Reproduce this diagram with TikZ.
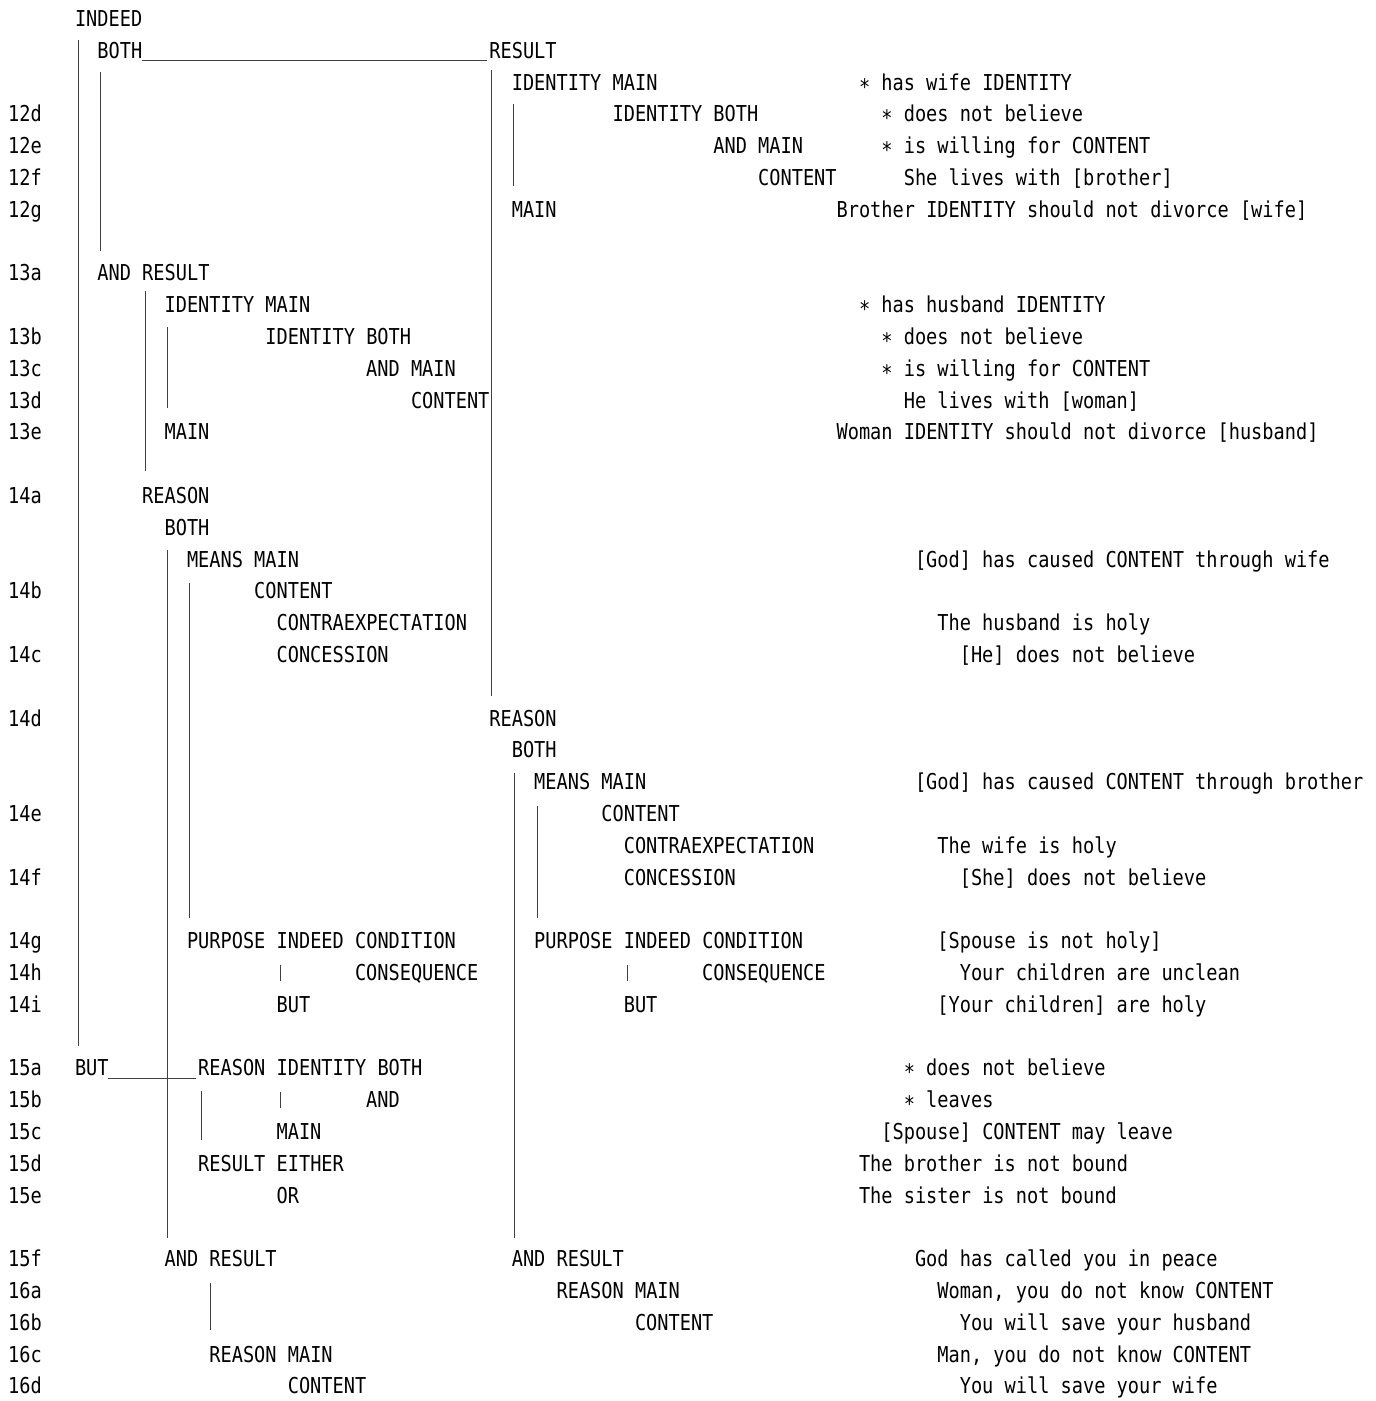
\documentclass[tikz,border=0pt]{standalone}
\usepackage{fontspec}
\newfontfamily\dm[FakeStretch=0.85]{DejaVu Sans Mono}
\newcommand{\astk}{∗}
\tikzset{
  txt/.style={anchor=base west, inner sep=0pt, font=\dm\fontsize{21.9}{24}\selectfont, text=black},
  tree/.style={draw=black!75, line width=1pt},
  declare function={rb(\k)=26.5+31.8*\k; cx(\c)=74.8+11.2*\c;}
}
\begin{document}
\begin{tikzpicture}[x=1pt,y=-1pt]
\useasboundingbox[fill=white] (0,0) rectangle (1376,1401);
% verse labels
\foreach \lab/\r in {12d/3,12e/4,12f/5,12g/6,13a/8,13b/10,13c/11,13d/12,13e/13,14a/15,14b/18,14c/20,14d/22,14e/25,14f/27,14g/29,14h/30,14i/31,15a/33,15b/34,15c/35,15d/36,15e/37,15f/39,16a/40,16b/41,16c/42,16d/43}
  \node[txt] (v\lab) at (8,{rb(\r)}) {\lab};
% tree texts
\node[txt] (t0) at ({cx(0)},{rb(0)}) {INDEED};
\node[txt] (t1a) at ({cx(2)},{rb(1)}) {BOTH};
\node[txt] (t1b) at ({cx(37)},{rb(1)}) {RESULT};
\node[txt] (t2) at ({cx(39)},{rb(2)}) {IDENTITY MAIN};
\node[txt] (t3) at ({cx(48)},{rb(3)}) {IDENTITY BOTH};
\node[txt] (t4) at ({cx(57)},{rb(4)}) {AND MAIN};
\node[txt] (t5) at ({cx(61)},{rb(5)}) {CONTENT};
\node[txt] (t6) at ({cx(39)},{rb(6)}) {MAIN};
\node[txt] (t8) at ({cx(2)},{rb(8)}) {AND RESULT};
\node[txt] (t9) at ({cx(8)},{rb(9)}) {IDENTITY MAIN};
\node[txt] (t10) at ({cx(17)},{rb(10)}) {IDENTITY BOTH};
\node[txt] (t11) at ({cx(26)},{rb(11)}) {AND MAIN};
\node[txt] (t12) at ({cx(30)},{rb(12)}) {CONTENT};
\node[txt] (t13) at ({cx(8)},{rb(13)}) {MAIN};
\node[txt] (t15) at ({cx(6)},{rb(15)}) {REASON};
\node[txt] (t16) at ({cx(8)},{rb(16)}) {BOTH};
\node[txt] (t17) at ({cx(10)},{rb(17)}) {MEANS MAIN};
\node[txt] (t18) at ({cx(16)},{rb(18)}) {CONTENT};
\node[txt] (t19) at ({cx(18)},{rb(19)}) {CONTRAEXPECTATION};
\node[txt] (t20) at ({cx(18)},{rb(20)}) {CONCESSION};
\node[txt] (t22) at ({cx(37)},{rb(22)}) {REASON};
\node[txt] (t23) at ({cx(39)},{rb(23)}) {BOTH};
\node[txt] (t24) at ({cx(41)},{rb(24)}) {MEANS MAIN};
\node[txt] (t25) at ({cx(47)},{rb(25)}) {CONTENT};
\node[txt] (t26) at ({cx(49)},{rb(26)}) {CONTRAEXPECTATION};
\node[txt] (t27) at ({cx(49)},{rb(27)}) {CONCESSION};
\node[txt] (t29a) at ({cx(10)},{rb(29)}) {PURPOSE INDEED CONDITION};
\node[txt] (t29b) at ({cx(41)},{rb(29)}) {PURPOSE INDEED CONDITION};
\node[txt] (t30a) at ({cx(25)},{rb(30)}) {CONSEQUENCE};
\node[txt] (t30b) at ({cx(56)},{rb(30)}) {CONSEQUENCE};
\node[txt] (t31a) at ({cx(18)},{rb(31)}) {BUT};
\node[txt] (t31b) at ({cx(49)},{rb(31)}) {BUT};
\node[txt] (t33a) at ({cx(0)},{rb(33)}) {BUT};
\node[txt] (t33b) at ({cx(11)},{rb(33)}) {REASON IDENTITY BOTH};
\node[txt] (t34) at ({cx(26)},{rb(34)}) {AND};
\node[txt] (t35) at ({cx(18)},{rb(35)}) {MAIN};
\node[txt] (t36) at ({cx(11)},{rb(36)}) {RESULT EITHER};
\node[txt] (t37) at ({cx(18)},{rb(37)}) {OR};
\node[txt] (t39a) at ({cx(8)},{rb(39)}) {AND RESULT};
\node[txt] (t39b) at ({cx(39)},{rb(39)}) {AND RESULT};
\node[txt] (t40) at ({cx(43)},{rb(40)}) {REASON MAIN};
\node[txt] (t41) at ({cx(50)},{rb(41)}) {CONTENT};
\node[txt] (t42) at ({cx(12)},{rb(42)}) {REASON MAIN};
\node[txt] (t43) at ({cx(19)},{rb(43)}) {CONTENT};
% right-hand glosses
\node[txt] (g2) at ({cx(70)},{rb(2)}) {\astk{} has wife IDENTITY};
\node[txt] (g3) at ({cx(72)},{rb(3)}) {\astk{} does not believe};
\node[txt] (g4) at ({cx(72)},{rb(4)}) {\astk{} is willing for CONTENT};
\node[txt] (g5) at ({cx(74)},{rb(5)}) {She lives with [brother]};
\node[txt] (g6) at ({cx(68)},{rb(6)}) {Brother IDENTITY should not divorce [wife]};
\node[txt] (g9) at ({cx(70)},{rb(9)}) {\astk{} has husband IDENTITY};
\node[txt] (g10) at ({cx(72)},{rb(10)}) {\astk{} does not believe};
\node[txt] (g11) at ({cx(72)},{rb(11)}) {\astk{} is willing for CONTENT};
\node[txt] (g12) at ({cx(74)},{rb(12)}) {He lives with [woman]};
\node[txt] (g13) at ({cx(68)},{rb(13)}) {Woman IDENTITY should not divorce [husband]};
\node[txt] (g17) at ({cx(75)},{rb(17)}) {[God] has caused CONTENT through wife};
\node[txt] (g19) at ({cx(77)},{rb(19)}) {The husband is holy};
\node[txt] (g20) at ({cx(79)},{rb(20)}) {[He] does not believe};
\node[txt] (g24) at ({cx(75)},{rb(24)}) {[God] has caused CONTENT through brother};
\node[txt] (g26) at ({cx(77)},{rb(26)}) {The wife is holy};
\node[txt] (g27) at ({cx(79)},{rb(27)}) {[She] does not believe};
\node[txt] (g29) at ({cx(77)},{rb(29)}) {[Spouse is not holy]};
\node[txt] (g30) at ({cx(79)},{rb(30)}) {Your children are unclean};
\node[txt] (g31) at ({cx(77)},{rb(31)}) {[Your children] are holy};
\node[txt] (g33) at ({cx(74)},{rb(33)}) {\astk{} does not believe};
\node[txt] (g34) at ({cx(74)},{rb(34)}) {\astk{} leaves};
\node[txt] (g35) at ({cx(72)},{rb(35)}) {[Spouse] CONTENT may leave};
\node[txt] (g36) at ({cx(70)},{rb(36)}) {The brother is not bound};
\node[txt] (g37) at ({cx(70)},{rb(37)}) {The sister is not bound};
\node[txt] (g39) at ({cx(75)},{rb(39)}) {God has called you in peace};
\node[txt] (g40) at ({cx(77)},{rb(40)}) {Woman, you do not know CONTENT};
\node[txt] (g41) at ({cx(79)},{rb(41)}) {You will save your husband};
\node[txt] (g42) at ({cx(77)},{rb(42)}) {Man, you do not know CONTENT};
\node[txt] (g43) at ({cx(79)},{rb(43)}) {You will save your wife};
% line end points
\coordinate (a1) at (78,40);      \coordinate (a2) at (78,1046);
\coordinate (b1) at (100,72);     \coordinate (b2) at (100,251);
\coordinate (u1) at (142,60);     \coordinate (u2) at (487,60);
\coordinate (c1) at (491.5,70);   \coordinate (c2) at (491.5,696);
\coordinate (d1) at (513,104);    \coordinate (d2) at (513,185.5);
\coordinate (e1) at (145,291);    \coordinate (e2) at (145,471);
\coordinate (f1) at (167,327);    \coordinate (f2) at (167,408);
\coordinate (g1) at (167,550);    \coordinate (g2c) at (167,1238);
\coordinate (h1) at (189.5,583);  \coordinate (h2) at (189.5,918);
\coordinate (i1) at (514.5,773);  \coordinate (i2) at (514.5,1238);
\coordinate (j1) at (537,806);    \coordinate (j2) at (537,918);
\coordinate (w1) at (108,1078.5); \coordinate (w2) at (196,1078.5);
\coordinate (k1) at (201.5,1091); \coordinate (k2) at (201.5,1139.5);
\coordinate (m1) at (210,1283);   \coordinate (m2) at (210,1330);
\coordinate (p1) at (280,964.5);  \coordinate (p2) at (280,980.5);
\coordinate (q1) at (627,964.5);  \coordinate (q2) at (627,980.5);
\coordinate (s1) at (280,1092);   \coordinate (s2) at (280,1108);
\draw[tree] (a1) -- (a2);
\draw[tree] (b1) -- (b2);
\draw[tree] (u1) -- (u2);
\draw[tree] (c1) -- (c2);
\draw[tree] (d1) -- (d2);
\draw[tree] (e1) -- (e2);
\draw[tree] (f1) -- (f2);
\draw[tree] (g1) -- (g2c);
\draw[tree] (h1) -- (h2);
\draw[tree] (i1) -- (i2);
\draw[tree] (j1) -- (j2);
\draw[tree] (w1) -- (w2);
\draw[tree] (k1) -- (k2);
\draw[tree] (m1) -- (m2);
\draw[tree] (p1) -- (p2);
\draw[tree] (q1) -- (q2);
\draw[tree] (s1) -- (s2);
\end{tikzpicture}
\end{document}
